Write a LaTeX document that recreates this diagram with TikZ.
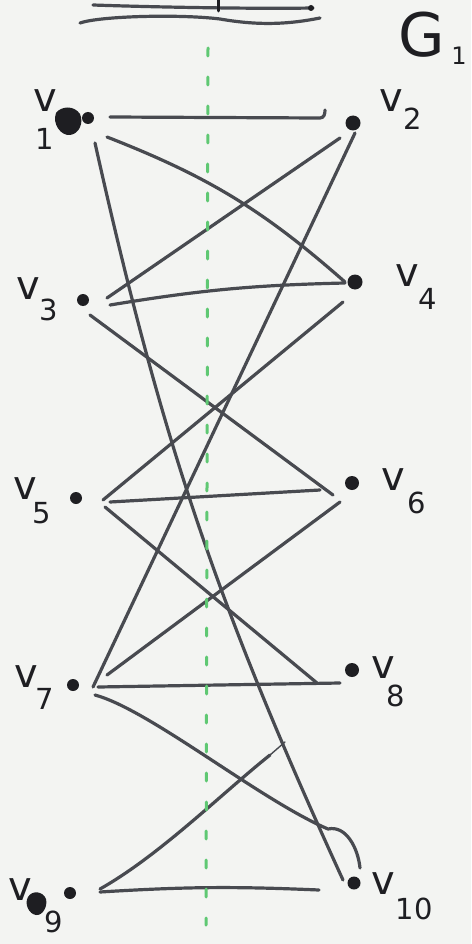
\documentclass[tikz,border=0pt]{standalone}
\usepackage{fontspec}
\setmainfont{DejaVu Sans}
\usetikzlibrary{calc}
\definecolor{bg}{RGB}{243,244,242}
\definecolor{pen}{RGB}{72,74,80}
\definecolor{ink}{RGB}{30,30,34}
\definecolor{guidegreen}{RGB}{95,200,115}
\begin{document}
\begin{tikzpicture}[x=1pt,y=-1pt,
  edge/.style={pen, line width=3.2pt, line cap=round, line join=round},
  vdot/.style={circle, fill=ink, inner sep=0pt, minimum size=#1},
  lab/.style={ink, inner sep=0pt, font=\fontsize{40}{40}\selectfont},
  sublab/.style={ink, inner sep=0pt, font=\fontsize{29}{29}\selectfont},
  guide/.style={guidegreen, line width=3pt, line cap=round, dash pattern=on 8pt off 21pt}]
\fill[bg] (0,0) rectangle (471,944);
\useasboundingbox (0,0) rectangle (471,944);

% vertices
\node[vdot=12pt] (v1) at (88,118) {};
\node[vdot=15pt] (v2) at (353,123) {};
\node[vdot=12pt] (v3) at (83,300) {};
\node[vdot=15pt] (v4) at (355,282) {};
\node[vdot=12pt] (v5) at (76,498) {};
\node[vdot=14pt] (v6) at (352,483) {};
\node[vdot=12pt] (v7) at (73,685) {};
\node[vdot=14pt] (v8) at (352,670) {};
\node[vdot=12pt] (v9) at (70,893) {};
\node[vdot=13pt] (v10) at (354,883) {};

% scribbles next to v1 and v9
\fill[ink] (56,113) .. controls (61,106) and (74,105) .. (80,114)
  .. controls (84,123) and (79,134) .. (70,135)
  .. controls (61,136) and (52,124) .. (56,113) -- cycle;
\fill[ink] (28,897) .. controls (32,890) and (43,891) .. (46,899)
  .. controls (48,907) and (42,916) .. (36,915)
  .. controls (29,914) and (24,904) .. (28,897) -- cycle;

% top lines
\draw[edge] (93,5) .. controls (150,7) and (250,9) .. (313,8);
\draw[ink, line width=3pt, line cap=round] (218,-2) -- (218,11);
\fill[ink] (311,8) circle (3);
\draw[edge] (80,23) .. controls (100,16) and (180,14) .. (220,19)
  .. controls (260,26) and (290,24) .. (320,18);

% edges
\draw[edge] ($(v1)+(22,-1)$) -- ($(v2)+(-33,-5)$)
  .. controls ($(v2)+(-29,-5)$) and ($(v2)+(-28,-9)$) .. ($(v2)+(-28,-13)$);
\draw[edge] ($(v1)+(19,19)$) to[bend left=10] ($(v4)+(-10,0)$);
\draw[edge] ($(v1)+(7,25)$) to[bend right=6] ($(v10)+(-11,-3)$);
\draw[edge] ($(v2)+(-13,15)$) -- ($(v3)+(24,-2)$);
\draw[edge] ($(v2)+(2,10)$) -- ($(v7)+(20,2)$);
\draw[edge] ($(v3)+(27,5)$) to[bend left=4] ($(v4)+(-10,1)$);
\draw[edge] ($(v3)+(7,15)$) -- ($(v6)+(-19,12)$);
\draw[edge] ($(v4)+(-12,20)$) -- ($(v5)+(27,2)$);
\draw[edge] ($(v5)+(34,4)$) -- ($(v6)+(-32,7)$);
\draw[edge] ($(v5)+(29,9)$) -- ($(v8)+(-35,13)$);
\draw[edge] ($(v6)+(-12,19)$) -- ($(v7)+(34,-10)$);
\draw[edge] ($(v7)+(25,2)$) -- ($(v8)+(-12,13)$);
\coordinate (hook) at (328,829);
\draw[edge] ($(v7)+(22,10)$) .. controls (150,710) and (260,800) .. (hook)
  .. controls (346,825) and (358,848) .. ($(v10)+(6,-15)$);
\draw[edge] ($(v9)+(30,-1)$) to[bend left=3] ($(v10)+(-35,7)$);
\coordinate (pend) at (270,755);
\coordinate (pfree) at (285,742);
\draw[edge] ($(v9)+(30,-4)$) .. controls (160,855) and (220,795) .. (pend);
\draw[pen, line width=1.4pt, line cap=round] (pend) -- (pfree);

% green dashed guide
\draw[guide] (208,48) -- (206,925);

% labels
\node[lab] (l1) at (45,101) {v};
\node[sublab] (s1) at (45,139) {1};
\node[lab] (l2) at (391,101) {v};
\node[sublab] (s2) at (413,119) {2};
\node[lab] (l3) at (28,289) {v};
\node[sublab] (s3) at (49,310) {3};
\node[lab] (l4) at (407,276) {v};
\node[sublab] (s4) at (428,299) {4};
\node[lab] (l5) at (25,489) {v};
\node[sublab] (s5) at (42,513) {5};
\node[lab] (l6) at (393,480) {v};
\node[sublab] (s6) at (417,503) {6};
\node[lab] (l7) at (26,677) {v};
\node[sublab] (s7) at (45,699) {7};
\node[lab] (l8) at (383,668) {v};
\node[sublab] (s8) at (396,696) {8};
\node[lab] (l9) at (20,890) {v};
\node[sublab] (s9) at (54,922) {9};
\node[lab] (l10) at (383,884) {v};
\node[sublab] (s10) at (414,909) {10};
\node[ink, inner sep=0pt, font=\fontsize{60}{60}\selectfont] (G) at (422,35) {G};
\node[ink, inner sep=0pt, font=\fontsize{24}{24}\selectfont] (Gs) at (459,56) {1};
\end{tikzpicture}
\end{document}
